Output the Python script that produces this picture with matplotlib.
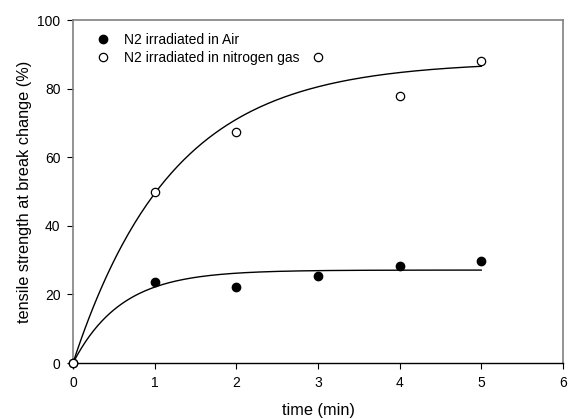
import numpy as np
import matplotlib
matplotlib.use("Agg")
import matplotlib.pyplot as plt

plt.rcParams['font.family'] = ['Liberation Sans', 'DejaVu Sans']

time_min = [0, 1, 2, 3, 4, 5]
air_change = [0, 23.7, 22.2, 25.5, 28.4, 29.8]
nitrogen_change = [0, 49.8, 67.3, 89.1, 77.9, 88.1]


def fit_rise_to_max(x, y):
	"""Least-squares fit of y = a * (1 - exp(-b x)), scanning b and solving a."""
	x = np.asarray(x, float)
	y = np.asarray(y, float)
	best = None
	for b in np.linspace(0.05, 5, 2000):
		g = 1 - np.exp(-b * x)
		a = np.dot(g, y) / np.dot(g, g)
		err = np.sum((y - a * g) ** 2)
		if best is None or err < best[0]:
			best = (err, a, b)
	return best[1], best[2]


fig = plt.figure(figsize=(5.68, 4.19), dpi=100)
ax = fig.add_axes([0.1285, 0.1336, 0.8625, 0.8184])

xs = np.linspace(0, 5, 200)
for ys in (air_change, nitrogen_change):
	a, b = fit_rise_to_max(time_min, ys)
	ax.plot(xs, a * (1 - np.exp(-b * xs)), color='black', lw=1.0, zorder=2)

ax.plot(time_min, air_change, 'o', color='black', ms=6, clip_on=False,
		zorder=3, label='N2 irradiated in Air')
ax.plot(time_min, nitrogen_change, 'o', mfc='white', mec='black', mew=0.9, ms=6,
		clip_on=False, zorder=4, label='N2 irradiated in nitrogen gas')

ax.set_xlim(0, 6)
ax.set_ylim(0, 100)
ax.set_xticks(range(0, 7))
ax.set_yticks(range(0, 101, 20))
ax.tick_params(direction='out', length=4, width=0.8, labelsize=10, pad=5)

for side in ('left', 'top', 'right'):
	ax.spines[side].set_color('#808080')
	ax.spines[side].set_linewidth(1.2)
ax.spines['bottom'].set_color('black')
ax.spines['bottom'].set_linewidth(1.0)

ax.set_xlabel('time (min)', fontsize=11.7, labelpad=10)
ax.set_ylabel('tensile strength at break change (%)', fontsize=11.7, labelpad=4)

ax.legend(loc='upper left', bbox_to_anchor=(0.025, 0.99), frameon=False,
		  fontsize=10, handletextpad=0.9, labelspacing=0.25, borderaxespad=0.3,
		  handlelength=1.2)

fig.savefig('out.png', dpi=100)
